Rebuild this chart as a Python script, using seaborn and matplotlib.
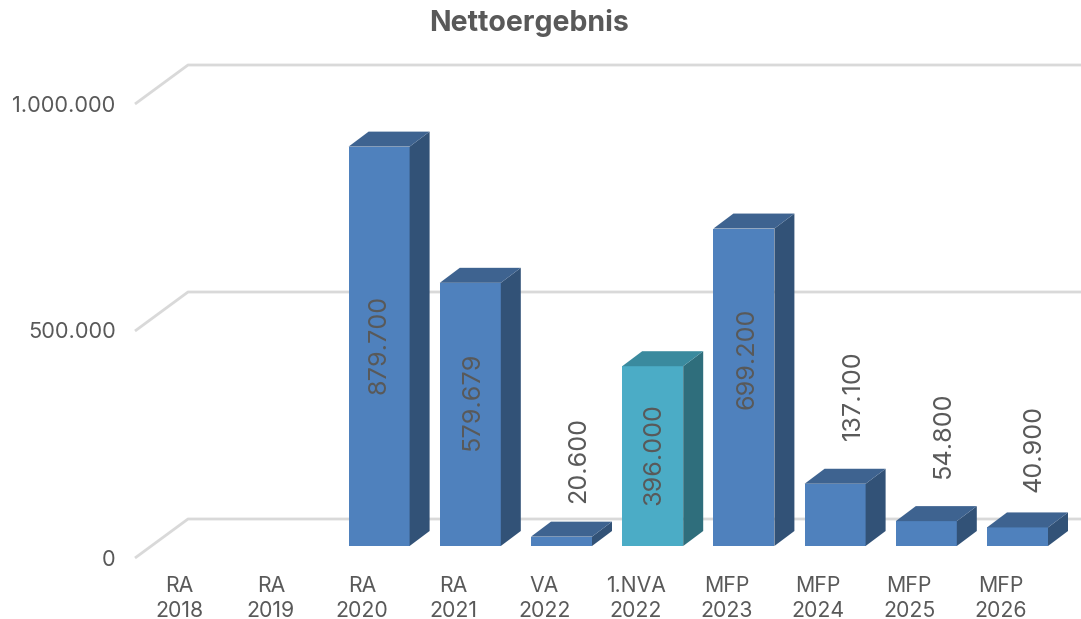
import matplotlib
matplotlib.use("Agg")
import matplotlib.pyplot as plt
from matplotlib.patches import Polygon
from matplotlib.lines import Line2D
import seaborn as sns
import pandas as pd

sns.set_theme(style="white")
plt.rcParams['font.family'] = ['Inter', 'DejaVu Sans']

categories = ["RA\n2018", "RA\n2019", "RA\n2020", "RA\n2021", "VA\n2022", "1.NVA\n2022",
              "MFP\n2023", "MFP\n2024", "MFP\n2025", "MFP\n2026"]
values = [None, None, 879700, 579679, 20600, 396000, 699200, 137100, 54800, 40900]
value_labels = ["", "", "879.700", "579.679", "20.600", "396.000", "699.200", "137.100", "54.800", "40.900"]
label_centers = [0, 0, 444000, 319700, 190000, 202600, 413000, 333000, 245500, 214500]
label_shift_px = [0, 0, 0, 2, 17, 1, 3, 18, 17, 17]
y_ticks = [0, 500000, 1000000]
y_tick_labels = ["0", "500.000", "1.000.000"]
title = "Nettoergebnis"

W, H = 1081, 619
PX_X, X0 = 91.2, 196.7       # pixels per category, pixel of category 0
PX_Y, Y0 = 227 / 500000, 546.0  # pixels per value, pixel of value 0
TEXT = "#595959"

fig = plt.figure(figsize=(W / 100, H / 100), dpi=100)
ax = fig.add_axes([0, 0, 1, 1])
df = pd.DataFrame({"cat": categories, "val": values})
palette = ["#4F81BD" if not c.startswith("1.NVA") else "#4BACC6" for c in categories]
sns.barplot(data=df, x="cat", y="val", hue="cat", palette=palette, legend=False,
            width=61 / PX_X, saturation=1, ax=ax, zorder=3, linewidth=0, edgecolor="none")
ax.set_xlim(-X0 / PX_X, (W - X0) / PX_X)
ax.set_ylim(-(H - Y0) / PX_Y, Y0 / PX_Y)
ax.axis("off")
ax.set_xlabel("")
ax.set_ylabel("")

dxc = lambda px: px / PX_X
dyv = lambda px: px / PX_Y

# gridlines with the receding floor/wall segment
for v, lab in zip(y_ticks, y_tick_labels):
    ax.add_line(Line2D([dxc(135 - X0), dxc(188 - X0), dxc(W - X0)],
                       [v - dyv(12), v + dyv(27), v + dyv(27)],
                       color="#D9D9D9", lw=2.0, zorder=1, solid_capstyle="butt"))
    ax.text(dxc(115.5 - X0), v - dyv(13.5), lab, ha="right", va="center",
            fontsize=15.7, color=TEXT)

# 3D faces of the bars
side_cols = {"#4F81BD": ("#325277", "#3E6390"), "#4BACC6": ("#2F6E7C", "#3A8A9E")}
hw = 30.5 / PX_X
dx, dy = dxc(20), dyv(15)
for i, v in enumerate(values):
    if v is None:
        continue
    side, top = side_cols[palette[i]]
    ax.add_patch(Polygon([(i + hw, 0), (i + hw + dx, dy), (i + hw + dx, v + dy), (i + hw, v)],
                         closed=True, fc=side, ec="none", zorder=3))
    ax.add_patch(Polygon([(i - hw, v), (i - hw + dx, v + dy), (i + hw + dx, v + dy), (i + hw, v)],
                         closed=True, fc=top, ec="none", zorder=3))
    ax.text(i + dxc(label_shift_px[i]), label_centers[i], value_labels[i], rotation=90, ha="center",
            va="center", fontsize=18.2, color=TEXT, zorder=5)

# category labels
for i, c in enumerate(categories):
    ax.text(i - dxc(17), -dyv(52.5), c, ha="center", va="center", fontsize=15.3,
            color=TEXT, linespacing=1.3)

ax.text(dxc(529 - X0), dyv(Y0 - 23), title, ha="center", va="center", fontsize=20.5,
        fontweight="bold", color=TEXT)

fig.savefig("out.png", dpi=100, facecolor="white")
